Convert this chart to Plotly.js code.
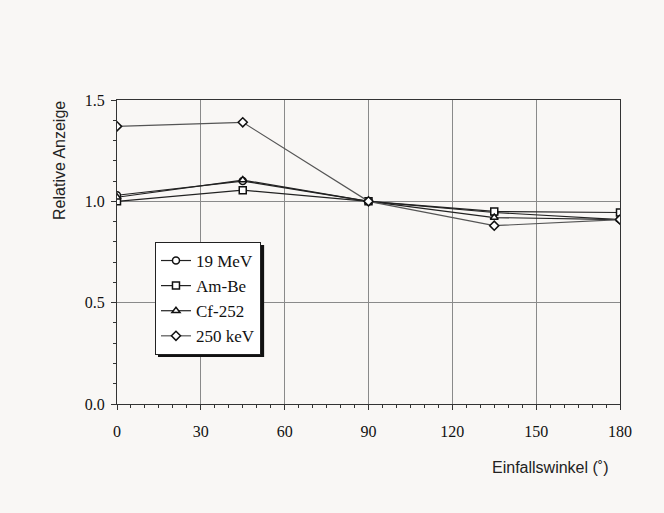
<!DOCTYPE html>
<html>
<head>
<meta charset="utf-8">
<script src="https://cdn.plot.ly/plotly-3.0.1.min.js"></script>
<style>
html,body{margin:0;padding:0;background:#f9f7f5;}
#chart{width:664px;height:513px;}
</style>
</head>
<body>
<div id="chart"></div>
<script>
const angles = [0, 45, 90, 135, 180];
const seriesNames = ['19 MeV', 'Am-Be', 'Cf-252', '250 keV'];
const mev19 = [1.03, 1.10, 1.00, 0.945, 0.91];
const amBe = [1.00, 1.055, 1.00, 0.95, 0.945];
const cf252 = [1.02, 1.105, 1.00, 0.92, 0.91];
const kev250 = [1.37, 1.39, 1.00, 0.88, 0.91];
const xTicks = [0, 30, 60, 90, 120, 150, 180];
const yTicks = [0.0, 0.5, 1.0, 1.5];
const yTickLabels = ['0.0', '0.5', '1.0', '1.5'];

const symbols = ['circle', 'square', 'triangle-up', 'diamond'];
const values = [mev19, amBe, cf252, kev250];
const lineColors = ['#222', '#222', '#222', '#555'];

const traces = values.map((v, i) => ({
  x: angles, y: v, name: seriesNames[i],
  type: 'scatter', mode: 'lines+markers',
  line: {color: lineColors[i], width: 1.2},
  marker: {symbol: symbols[i], size: 7, color: '#ffffff', line: {color: '#111', width: 1.5}}
}));
const serif = 'Liberation Serif, Times New Roman, serif';
const sans = 'Liberation Sans, Arial, sans-serif';

const layout = {
  width: 664, height: 513,
  paper_bgcolor: '#f9f7f5', plot_bgcolor: '#f9f7f5',
  margin: {l: 117, r: 44, t: 100, b: 109},
  showlegend: true,
  legend: {
    x: 0.0755, y: 0.533, xanchor: 'left', yanchor: 'top',
    bgcolor: '#ffffff', bordercolor: '#222', borderwidth: 1,
    font: {family: serif, size: 17, color: '#111'},
    tracegroupgap: 0, itemwidth: 30
  },
  xaxis: {
    range: [0, 180], tickvals: xTicks, ticktext: xTicks.map(String),
    showgrid: true, gridcolor: '#8a8a8a', gridwidth: 1,
    showline: true, mirror: true, linecolor: '#333', linewidth: 1,
    ticks: 'outside', ticklen: 5, tickcolor: '#333',
    minor: {dtick: 5, ticks: 'outside', ticklen: 3, tickcolor: '#333', showgrid: false},
    tickfont: {family: serif, size: 16, color: '#111'},
    zeroline: false, ticklabelstandoff: 8
  },
  yaxis: {
    range: [0, 1.5], tickvals: yTicks, ticktext: yTickLabels,
    showgrid: true, gridcolor: '#8a8a8a', gridwidth: 1,
    showline: true, mirror: true, linecolor: '#333', linewidth: 1,
    ticks: 'outside', ticklen: 5, tickcolor: '#333',
    minor: {dtick: 0.1, ticks: 'outside', ticklen: 3, tickcolor: '#333', showgrid: false},
    tickfont: {family: serif, size: 16, color: '#111'},
    zeroline: false, ticklabelstandoff: 3
  },
  annotations: [
    {text: 'Einfallswinkel (˚)', xref: 'paper', yref: 'paper', x: 0.98, y: -0.208,
     xanchor: 'right', yanchor: 'middle', showarrow: false,
     font: {family: sans, size: 16, color: '#222'}},
    {text: 'Relative Anzeige', xref: 'paper', yref: 'paper', x: -0.113, y: 0.8,
     xanchor: 'center', yanchor: 'middle', textangle: -90, showarrow: false,
     font: {family: sans, size: 16, color: '#222'}}
  ],
  shapes: [
    {type: 'rect', xref: 'paper', yref: 'paper', x0: 0.0815, x1: 0.2925, y0: 0.155, y1: 0.523,
     fillcolor: '#111', line: {width: 0}, layer: 'above'}
  ]
};

Plotly.newPlot('chart', traces, layout, {displayModeBar: false, staticPlot: true});
</script>
</body>
</html>
